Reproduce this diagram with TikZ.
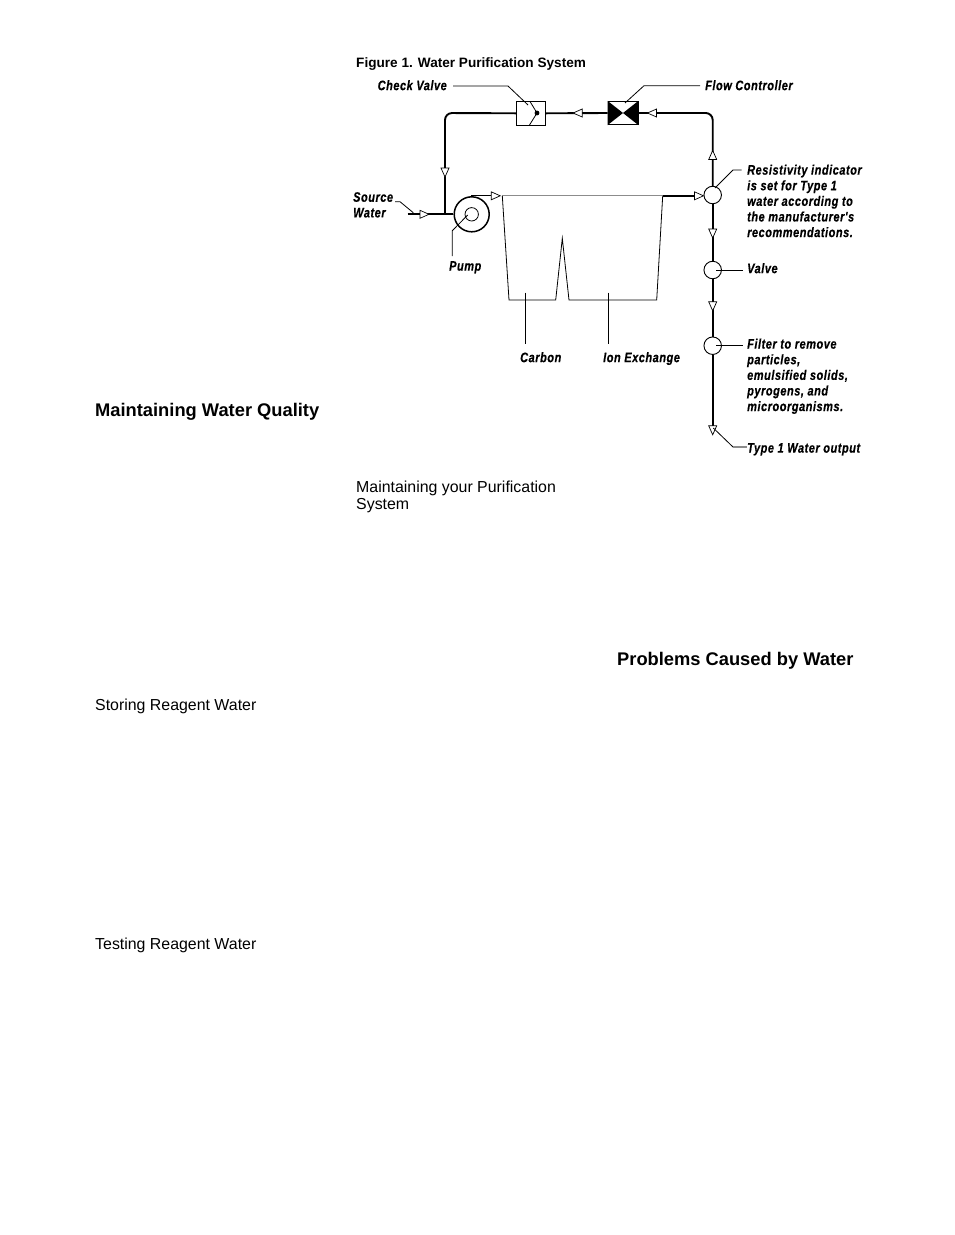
\documentclass[tikz,border=0pt]{standalone}
\usepackage{fontspec}
\setmainfont{Liberation Sans}
\newfontfamily\lblfont[FakeStretch=0.80,LetterSpace=4,FakeBold=0.4,BoldItalicFont={Liberation Sans Bold Italic}]{Liberation Sans}
\tikzset{
  x=1pt,y=-1pt,
  pipe/.style={draw=black,line width=1.9pt},
  thinpipe/.style={draw=black,line width=1.3pt},
  leader/.style={draw=black,line width=0.8pt},
  graylead/.style={draw=black!45,line width=1.1pt},
  lbl/.style={inner sep=0,anchor=north west,align=left,font=\lblfont\bfseries\itshape\fontsize{13.7}{15.6}\selectfont},
  head/.style={inner sep=0,anchor=base west,align=left,font=\bfseries\fontsize{18.3}{18.3}\selectfont},
  sub/.style={inner sep=0,anchor=base west,align=left,font=\fontsize{15.9}{17}\selectfont},
  vessel/.style={draw=black,fill=white,circle,line width=0.9pt,minimum size=17.5pt,inner sep=0},
  flowtip/.pic={\draw[fill=white,draw=black,line width=0.7pt] (-4.5,-4) -- (4.5,0) -- (-4.5,4) -- cycle;},
}
\begin{document}
\begin{tikzpicture}
\useasboundingbox (0,0) rectangle (954,1235);
% coordinates
\coordinate (src) at (407.5,214.3);
\coordinate (tee) at (445,214.3);
\coordinate (corner1) at (445,113);
\coordinate (corner2) at (712.7,113);
\coordinate (pumptop) at (471,195.8);
\coordinate (tankTL) at (502.3,195.8);
\coordinate (tankTR) at (662.7,195.8);
\coordinate (tankBL) at (509,300);
\coordinate (c1) at (555.7,300);
\coordinate (peak) at (562.3,238.3);
\coordinate (c2) at (569,300);
\coordinate (tankBR) at (656.7,300);
\coordinate (outend) at (712.7,427);
% nodes
\node[draw=black,line width=0.9pt,fill=white,minimum width=29.4pt,minimum height=24pt,inner sep=0] (check) at (531,113.3) {};
\node[draw=black,line width=0.9pt,fill=white,minimum width=30pt,minimum height=23.4pt,inner sep=0] (flow) at (623,113) {};
\node[draw=black,fill=white,circle,line width=1.5pt,minimum size=35pt,inner sep=0] (pump) at (471.7,214.3) {};
\node[draw=black,fill=white,circle,line width=0.8pt,minimum size=13.4pt,inner sep=0] (pumpin) at (471.7,214.3) {};
% pipes
\draw[pipe] (src) -- (pump.west);
\draw[pipe,rounded corners=7pt] (tee) -- (corner1) -- (check.west);
\draw[pipe] (check.east) -- (flow.west);
\draw[pipe,rounded corners=7pt] (flow.east) -- (corner2) -- (712.7,186.5);
\draw[thinpipe] (pumptop) -- (492,195.8);
\draw[draw=black!45,line width=1.3pt] (tankTL) -- (tankTR);
\draw[draw=black,line width=0.8pt] (tankTL) -- (tankBL) -- (c1) -- (peak) -- (c2) -- (tankBR) -- (tankTR);
\draw[pipe] (tankTR) -- (695,195.8);
\node[vessel] (resist) at (712.7,195) {};
\node[vessel] (valve) at (712.7,270) {};
\node[vessel] (filter) at (712.7,345.7) {};
\draw[pipe] (resist) -- (valve);
\draw[pipe] (valve) -- (filter);
\draw[pipe] (filter) -- (outend);
% check valve symbol
\fill (537,113) circle (2.4);
\draw[leader] (530,101.5) -- (537,113) -- (529.5,125);
% flow controller symbol
\fill (flow.north west) -- (flow.center) -- (flow.south west) -- cycle;
\fill (flow.north east) -- (flow.center) -- (flow.south east) -- cycle;
% flow arrows
\pic[rotate=0] at (424.5,214.3) {flowtip};
\pic[rotate=-90] at (445,172.5) {flowtip};
\pic[rotate=0] at (495.7,195.8) {flowtip};
\pic[rotate=180] at (577.7,113) {flowtip};
\pic[rotate=180] at (652,113) {flowtip};
\pic[rotate=90] at (712.7,155) {flowtip};
\pic[rotate=0] at (699,195.8) {flowtip};
\pic[rotate=-90] at (712.7,233.5) {flowtip};
\pic[rotate=-90] at (712.7,306.3) {flowtip};
\pic[rotate=-90] at (712.7,430.3) {flowtip};
% labels
\node[inner sep=0,anchor=base west,font=\bfseries\fontsize{13.6}{15}\selectfont] (title) at (356,67.5) {Figure 1. Water Purification System};
\node[lbl] (lcheck) at (377.5,80) {Check Valve};
\node[lbl] (lflow) at (705,80) {Flow Controller};
\node[lbl] (lsource) at (353,192) {Source\\Water};
\node[lbl] (lpump) at (449,261) {Pump};
\node[lbl] (lcarbon) at (520,352) {Carbon};
\node[lbl] (lion) at (603,352) {Ion Exchange};
\node[lbl] (lres) at (747,164.5) {Resistivity indicator\\is set for Type 1\\water according to\\the manufacturer's\\recommendations.};
\node[lbl] (lvalve) at (747,263) {Valve};
\node[lbl] (lfilter) at (747,338.5) {Filter to remove\\particles,\\emulsified solids,\\pyrogens, and\\microorganisms.};
\node[lbl] (lout) at (747,443) {Type 1 Water output};
% leaders
\draw[leader] (453,86) -- (508,86) -- (528,105);
\draw[leader] (700,85.7) -- (644,85.7) -- (625,103);
\draw[leader] (741.7,170) -- (733,170) -- (715,188);
\draw[leader] (716,270) -- (742.7,270);
\draw[leader] (716,345.7) -- (742.7,345.7);
\draw[leader] (713.3,428) -- (733,447);
\draw[graylead] (733,447) -- (746.7,447);
\draw[leader] (395,201.7) -- (400,201.7) -- (413.3,212.7);
\draw[leader] (467.7,215) -- (452.3,230.7) -- (452.3,256);
\draw[leader] (525.7,292.7) -- (525.7,344.3);
\draw[leader] (608.3,292.7) -- (608.3,344.3);
% page text
\node[head] (h1) at (95,416.5) {Maintaining Water Quality};
\node[head] (h2) at (617,665) {Problems Caused by Water};
\node[sub] (s1) at (356,509) {Maintaining your Purification\\[0pt]System};
\node[sub] (s2) at (95,710) {Storing Reagent Water};
\node[sub] (s3) at (95,949) {Testing Reagent Water};
\end{tikzpicture}
\end{document}
